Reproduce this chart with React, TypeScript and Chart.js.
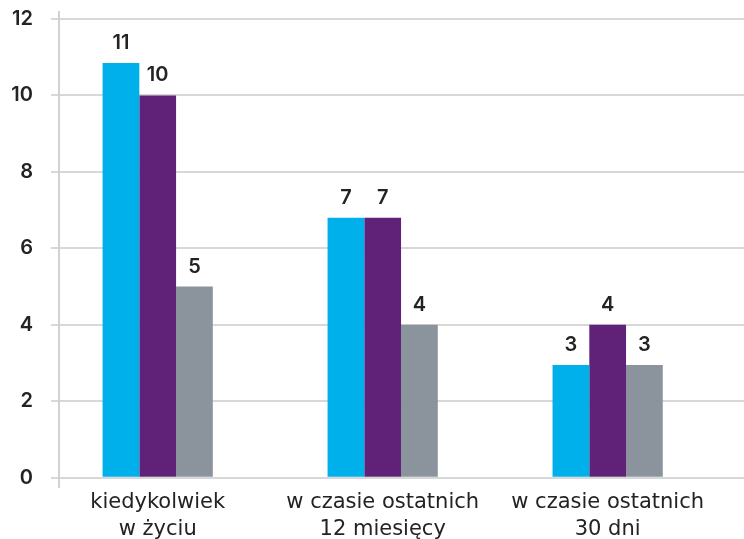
import React, { useEffect, useRef } from "react";
import { Chart, registerables } from "chart.js";

Chart.register(...registerables);

const categories: string[][] = [
  ["kiedykolwiek", "w życiu"],
  ["w czasie ostatnich", "12 miesięcy"],
  ["w czasie ostatnich", "30 dni"],
];
const seriesCyan = [10.85, 6.8, 2.95];
const seriesPurple = [10, 6.8, 4];
const seriesGray = [5, 4, 2.95];
const yTicks = [0, 2, 4, 6, 8, 10, 12];

const NUMFONT = "Inter, 'Open Sans', sans-serif";
const LABFONT = "'DejaVu Sans', sans-serif";
const TEXT = "#232323";

const valueLabels = {
  id: "valueLabels",
  afterDatasetsDraw(chart: any) {
    const ctx = chart.ctx;
    ctx.save();
    ctx.font = `600 20px ${NUMFONT}`;
    ctx.fillStyle = TEXT;
    ctx.textAlign = "center";
    ctx.textBaseline = "alphabetic";
    chart.data.datasets.forEach((ds: any, i: number) => {
      const meta = chart.getDatasetMeta(i);
      meta.data.forEach((bar: any, j: number) => {
        const v = ds.data[j].y;
        ctx.fillText(String(Math.round(v)), bar.x, bar.y - 14);
      });
    });
    ctx.restore();
  },
};

export default function App() {
  const ref = useRef<HTMLCanvasElement>(null);
  useEffect(() => {
    if (!ref.current) return;
    const toPts = (arr: number[]) => arr.map((y, x) => ({ x, y }));
    const chart = new Chart(ref.current, {
      type: "bar",
      data: {
        datasets: [
          { label: "a", data: toPts(seriesCyan), backgroundColor: "#00b0ea" },
          { label: "b", data: toPts(seriesPurple), backgroundColor: "#5f2278" },
          { label: "c", data: toPts(seriesGray), backgroundColor: "#8b949d" },
        ] as any,
      },
      options: {
        responsive: false,
        animation: false,
        events: [],
        layout: { padding: { top: 11.7, right: 0, left: 0, bottom: 0 } },
        datasets: { bar: { categoryPercentage: 0.49, barPercentage: 1 } },
        plugins: { legend: { display: false }, tooltip: { enabled: false } },
        scales: {
          x: {
            type: "linear",
            offset: false,
            min: -0.4387,
            max: 2.606,
            afterBuildTicks: (s: any) => {
              s.ticks = categories.map((_, i) => ({ value: i }));
            },
            afterFit: (s: any) => {
              s.height = 52.3;
              s.paddingLeft = 0;
              s.paddingRight = 0;
            },
            grid: { display: false, drawTicks: false, tickLength: 0 },
            border: { display: false },
            ticks: {
              padding: 2,
              maxRotation: 0,
              autoSkip: false,
              color: TEXT,
              font: { family: LABFONT, size: 21, weight: "400", lineHeight: 1.29 },
              callback: (v: any) => categories[Math.round(v)] ?? "",
            },
          } as any,
          y: {
            min: -0.235,
            max: 12.19,
            z: 1,
            afterBuildTicks: (s: any) => {
              s.ticks = yTicks.map((v) => ({ value: v }));
            },
            afterFit: (s: any) => {
              s.width = 59;
              s.paddingTop = 0;
              s.paddingBottom = 0;
            },
            grid: {
              color: "rgba(200,200,200,0.7)",
              lineWidth: 2,
              tickLength: 8,
              drawTicks: true,
            },
            border: { display: true, color: "#d2d2d2", width: 2 },
            ticks: {
              padding: 18,
              color: TEXT,
              font: { family: NUMFONT, size: 20, weight: "600" },
            },
          } as any,
        },
      },
      plugins: [valueLabels],
    });
    return () => chart.destroy();
  }, []);
  return (
    <div style={{ position: "fixed", left: 0, top: 0, width: 744, height: 539, background: "#fff" }}>
      <canvas ref={ref} width={744} height={539} style={{ width: 744, height: 539 }} />
    </div>
  );
}
